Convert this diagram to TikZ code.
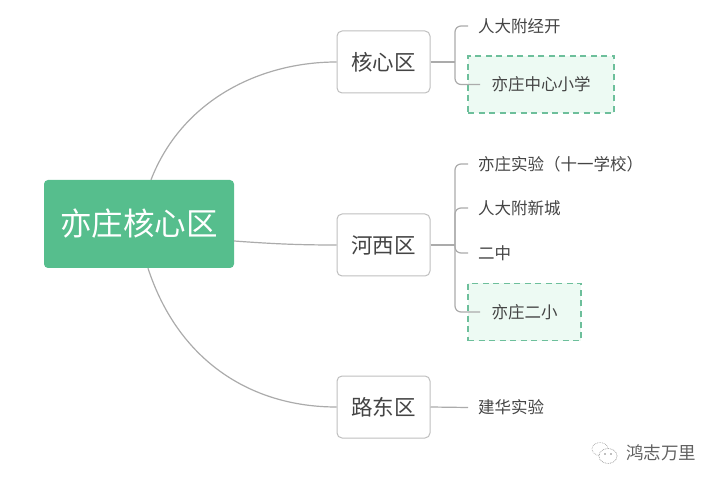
\documentclass[tikz,border=0pt]{standalone}
\usepackage{fontspec}
\setmainfont{Noto Sans CJK SC}
\usepackage{xcolor}
\usetikzlibrary{calc, positioning}

\definecolor{rootgreen}{HTML}{56BE8D}
\definecolor{dashgreen}{HTML}{6DBF9B}
\definecolor{palegreen}{HTML}{EDFAF3}
\definecolor{linegray}{HTML}{ABABAB}
\definecolor{inkgray}{HTML}{444444}

\tikzset{
    rootbox/.style = {draw = none, fill = rootgreen, rounded corners = 4pt, minimum width = 190pt, minimum height = 88pt, text = white, font = \fontsize{31.5}{34}\selectfont},
    areabox/.style = {draw = black!25, line width = 1pt, fill = white, rounded corners = 5pt, minimum width = 93pt, minimum height = 62pt, text = inkgray, font = \fontsize{21.5}{24}\selectfont},
    leaf/.style = {anchor = west, inner xsep = 10pt, inner ysep = 2pt, text = inkgray, font = \fontsize{16.5}{19}\selectfont},
    dashbox/.style = {draw = dashgreen, fill = palegreen, dash pattern = on 6pt off 4.5pt, line width = 1.7pt, text = inkgray, minimum height = 57pt, font = \fontsize{16.5}{19}\selectfont},
    link/.style = {draw = linegray, line width = 1.2pt},
    branch/.style = {link, rounded corners = 6pt}
}

\begin{document}
\begin{tikzpicture}[x = 1pt, y = -1pt]%{{{
                \useasboundingbox (0, 0) rectangle (720, 486);

                \node (Root) [rootbox] at (139, 224) { 亦庄核心区 };

                \node (Hexin) [areabox] at (383.5, 62) { 核心区 };
                \node (Hexi) [areabox] at (383.5, 245) { 河西区 };
                \node (Ludong) [areabox] at (383.5, 407) { 路东区 };

                \node (Renda) [leaf] at (468, 26) { 人大附经开 };
                \node (Zhongxin) [dashbox, minimum width = 146pt] at (541, 84.5) { 亦庄中心小学 };
                \node (Shiyan) [leaf] at (468, 164) { 亦庄实验（十一学校） };
                \node (Xincheng) [leaf] at (468, 208) { 人大附新城 };
                \node (Erzhong) [leaf] at (468, 253) { 二中 };
                \node (Erxiao) [dashbox, minimum width = 113pt] at (524.5, 312) { 亦庄二小 };
                \node (Jianhua) [leaf] at (468, 407.5) { 建华实验 };

                \node (Mark) [anchor = west, inner sep = 0pt, text = black!62, font = \fontsize{17.5}{20}\selectfont] at (626, 453) { 鸿志万里 };

                \coordinate (HexinJoint) at (455, 62);
                \coordinate (HexiJoint) at (455, 245);

                \draw [link] ([xshift = 12pt] Root.north) .. controls (182, 100) and (260, 62) .. (Hexin.west);
                \draw [link] ([yshift = -17pt] Root.east) .. controls (275, 244) and (300, 245) .. (Hexi.west);
                \draw [link] ([xshift = 9pt] Root.south) .. controls (178, 360) and (250, 407) .. (Ludong.west);

                \draw [link] (Hexin.east) -- (HexinJoint);
                \draw [branch] (HexinJoint) |- (Renda.west);
                \draw [branch] (HexinJoint) |- ([xshift = 13pt] Zhongxin.west);

                \draw [link] (Hexi.east) -- (HexiJoint);
                \draw [branch] (HexiJoint) |- (Shiyan.west);
                \draw [branch] (HexiJoint) |- (Xincheng.west);
                \draw [branch] (HexiJoint) |- (Erzhong.west);
                \draw [branch] (HexiJoint) |- ([xshift = 13pt] Erxiao.west);

                \draw [link] (Ludong.east) -- (Jianhua.west);

                % small mark in front of the name
                \draw [black!35, densely dotted, line width = 0.7pt] (600, 449) ellipse (8pt and 6.5pt);
                \draw [black!45, densely dotted, line width = 0.7pt, fill = white] (608, 456) ellipse (9pt and 7.5pt);
                \fill [black!50] (605, 454) circle (0.8pt) (611, 454) circle (0.8pt);
            \end{tikzpicture}%}}}
\end{document}
